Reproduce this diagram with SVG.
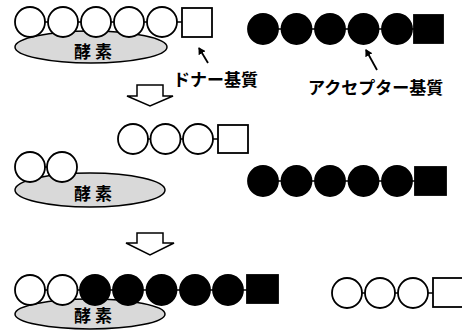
<svg xmlns="http://www.w3.org/2000/svg" width="462" height="330" viewBox="0 0 462 330">
<style>
.w{fill:#fff;stroke:#000;stroke-width:1.8}
.b{fill:#000;stroke:#000;stroke-width:1.8}
.enz{fill:#d9d9d9;stroke:#000;stroke-width:1.5}
.link{stroke:#000;stroke-width:1.5;fill:none}
.ptr{stroke:#000;stroke-width:1.8;fill:none}
.blk{fill:#fff;stroke:#000;stroke-width:1.5;stroke-linejoin:miter}
.t{font-family:"Noto Sans CJK JP","DejaVu Sans",sans-serif;font-weight:bold;fill:#000}
.enzt{font-size:17px;text-anchor:middle}
.lbl{font-size:17px}
</style>
<defs>
<marker id="ah" markerWidth="8" markerHeight="8" refX="6" refY="4" orient="auto" markerUnits="userSpaceOnUse">
<path d="M0,0 L7,4 L0,8 z" fill="#000"/>
</marker>
</defs>
<g id="enzyme1"><ellipse class="enz" cx="91" cy="47" rx="76" ry="16"/><text class="t enzt" x="93" y="58">酵 素</text></g>
<g id="enzyme2"><ellipse class="enz" cx="90" cy="190" rx="75" ry="17"/><text class="t enzt" x="93" y="200">酵 素</text></g>
<g id="enzyme3"><ellipse class="enz" cx="90" cy="314" rx="75" ry="15"/><text class="t enzt" x="93" y="322">酵 素</text></g>
<g id="connectors">
<line class="link" x1="30" y1="22" x2="182" y2="22"/>
<line class="link" x1="263" y1="29" x2="414" y2="29"/>
<line class="link" x1="133" y1="139" x2="218" y2="139"/>
<line class="link" x1="30" y1="167" x2="62" y2="167"/>
<line class="link" x1="263" y1="181" x2="415" y2="181"/>
<line class="link" x1="30" y1="290" x2="247" y2="290"/>
<line class="link" x1="347" y1="293" x2="433" y2="293"/>
<line class="ptr" x1="208" y1="63" x2="199" y2="48" marker-end="url(#ah)"/>
<line class="ptr" x1="377" y1="70" x2="366" y2="50" marker-end="url(#ah)"/>
<polygon class="blk" points="137,85 163,85 163,96 173,96 150,106 127,96 137,96"/>
<polygon class="blk" points="137,233 163,233 163,243 174,243 150,255 126,243 137,243"/>
</g>
<g id="donor1">
<circle class="w" cx="30" cy="22" r="15"/><circle class="w" cx="63" cy="22" r="15"/><circle class="w" cx="96" cy="22" r="15"/><circle class="w" cx="129" cy="22" r="15"/><circle class="w" cx="162" cy="22" r="15"/>
<rect class="w" x="182" y="8" width="30" height="29"/>
</g>
<g id="acceptor1">
<circle class="b" cx="263" cy="29" r="15"/><circle class="b" cx="296.5" cy="29" r="15"/><circle class="b" cx="330" cy="29" r="15"/><circle class="b" cx="363.5" cy="29" r="15"/><circle class="b" cx="397" cy="29" r="15"/>
<rect class="b" x="414" y="15" width="29" height="28"/>
</g>
<g id="leaving1">
<circle class="w" cx="133" cy="139" r="15"/><circle class="w" cx="165.5" cy="139" r="15"/><circle class="w" cx="198" cy="139" r="15"/>
<rect class="w" x="218" y="125" width="30" height="28"/>
</g>
<g id="intermediate">
<circle class="w" cx="30" cy="167" r="15"/><circle class="w" cx="62" cy="167" r="15"/>
</g>
<g id="acceptor2">
<circle class="b" cx="263" cy="181" r="15"/><circle class="b" cx="296.5" cy="181" r="15"/><circle class="b" cx="330" cy="181" r="15"/><circle class="b" cx="363.5" cy="181" r="15"/><circle class="b" cx="397" cy="181" r="15"/>
<rect class="b" x="415" y="167" width="31" height="28"/>
</g>
<g id="product">
<circle class="w" cx="30" cy="290" r="15"/><circle class="w" cx="62.5" cy="290" r="15"/>
<circle class="b" cx="95" cy="290" r="15"/><circle class="b" cx="128" cy="290" r="15"/><circle class="b" cx="161.5" cy="290" r="15"/><circle class="b" cx="195" cy="290" r="15"/><circle class="b" cx="228" cy="290" r="15"/>
<rect class="b" x="247" y="275" width="31" height="28"/>
</g>
<g id="leaving2">
<circle class="w" cx="347" cy="293" r="15"/><circle class="w" cx="380" cy="293" r="15"/><circle class="w" cx="413" cy="293" r="15"/>
<rect class="w" x="433" y="278" width="30" height="29"/>
</g>
<g id="labels">
<text class="t lbl" x="173" y="86">ドナー基質</text>
<text class="t lbl" x="308" y="94">アクセプター基質</text>
</g>
</svg>
